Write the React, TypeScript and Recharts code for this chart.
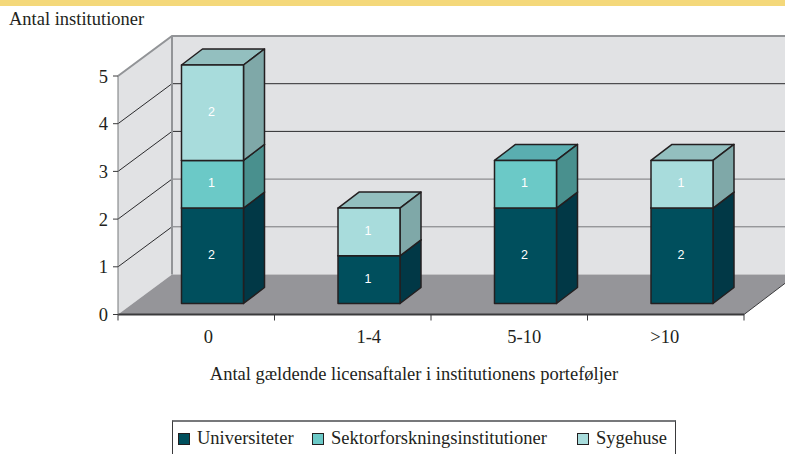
import { Bar, BarChart, LabelList, Legend, ReferenceArea, XAxis, YAxis } from 'recharts';

const CATEGORIES = ['0', '1-4', '5-10', '>10'];
const UNIVERSITETER = [2, 1, 2, 2];
const SEKTOR = [1, 0, 1, 0];
const SYGEHUSE = [2, 1, 0, 1];
const Y_TICKS = [0, 1, 2, 3, 4, 5];
const TICK_SHIFT = [12, 16, 15, -1];

const data = CATEGORIES.map((kategori, i) => ({
  kategori,
  universiteter: UNIVERSITETER[i],
  sektor: SEKTOR[i],
  sygehuse: SYGEHUSE[i],
}));

const SERIF = '"Liberation Serif", "Times New Roman", serif';
const INK = '#231f20';
const TEXT_SIZE = 18.5;
const BAR_DX = 16;
const BAR_DY = -11;
const DEPTH_X = 21;
const DEPTH_Y = -16;
const WALL_X = 54;
const WALL_Y = -40;

const colors = {
  universiteter: { front: '#004f5d', side: '#013846', top: '#013846' },
  sektor: { front: '#6bc9c7', side: '#49908e', top: '#5aaeb0' },
  sygehuse: { front: '#a8dcdc', side: '#7fa8a8', top: '#93bfbf' },
};

const gridStroke = (tick: number) => (tick <= 2 ? '#77787b' : '#2b2b2d');

// walls, floor and the grid that runs along them
function Room({ x, y, width, height }: any) {
  const bottom = y + height;
  const right = x + width;
  const edge = 785;
  const unit = height / 5;
  return (
    <g>
      <polygon
        points={`${x},${y} ${x + WALL_X},${y + WALL_Y} ${x + WALL_X},${bottom + WALL_Y} ${x},${bottom}`}
        fill="#e1e2e4"
      />
      <rect x={x + WALL_X} y={y + WALL_Y} width={edge - x - WALL_X} height={height} fill="#e1e2e4" />
      <polygon
        points={`${x},${bottom} ${x + WALL_X},${bottom + WALL_Y} ${edge},${bottom + WALL_Y} ${edge},${bottom - (edge - right) * 0.76} ${right},${bottom}`}
        fill="#959599"
      />
      <line x1={right} y1={bottom} x2={edge} y2={bottom - (edge - right) * 0.76} stroke="#3a3a3c" strokeWidth={1} />
      {Y_TICKS.filter((t) => t > 0 && t < 5).map((t) => {
        const ty = bottom - t * unit;
        return (
          <g key={t}>
            <line x1={x} y1={ty} x2={x + WALL_X} y2={ty + WALL_Y} stroke="#2b2b2d" strokeWidth={1} />
            <line x1={x + WALL_X} y1={ty + WALL_Y} x2={edge} y2={ty + WALL_Y} stroke={gridStroke(t)} strokeWidth={1} />
          </g>
        );
      })}
      <polyline
        points={`${x},${y} ${x + WALL_X},${y + WALL_Y} ${edge},${y + WALL_Y}`}
        fill="none"
        stroke="#929497"
        strokeWidth={2}
      />
      <line x1={x + WALL_X} y1={y + WALL_Y} x2={x + WALL_X} y2={bottom + WALL_Y} stroke="#929497" strokeWidth={2} />
      {/* the ticks sit between the categories, not under them */}
      {[0, 1, 2, 3, 4].map((i) => (
        <line
          key={i}
          x1={x + (i * width) / 4}
          y1={bottom}
          x2={x + (i * width) / 4}
          y2={bottom + 6}
          stroke="#3a3a3c"
          strokeWidth={1}
        />
      ))}
    </g>
  );
}

function box(key: keyof typeof colors) {
  return ({ x, y, width, height }: any) => {
    if (!height) return <g />;
    const c = colors[key];
    const l = x + BAR_DX;
    const t = y + BAR_DY;
    const r = l + width;
    const b = t + height;
    const common = { stroke: INK, strokeWidth: 1.5, strokeLinejoin: 'round' as const };
    return (
      <g>
        <polygon
          points={`${l},${t} ${l + DEPTH_X},${t + DEPTH_Y} ${r + DEPTH_X},${t + DEPTH_Y} ${r},${t}`}
          fill={c.top}
          {...common}
        />
        <polygon
          points={`${r},${t} ${r + DEPTH_X},${t + DEPTH_Y} ${r + DEPTH_X},${b + DEPTH_Y} ${r},${b}`}
          fill={c.side}
          {...common}
        />
        <rect x={l} y={t} width={width} height={height} fill={c.front} {...common} />
      </g>
    );
  };
}

const BarValue = ({ x, y, width, height, value }: any) =>
  value ? (
    <text
      x={x + BAR_DX + width / 2 - 1}
      y={y + BAR_DY + height / 2 + 3}
      textAnchor="middle"
      fontSize={12.5}
      fontFamily='"Liberation Sans", Arial, sans-serif'
      fill="#ffffff"
    >
      {value}
    </text>
  ) : null;

const XTick = ({ x, y, payload, index }: any) => (
  <text x={x + TICK_SHIFT[index]} y={y + 20} textAnchor="middle" fontSize={TEXT_SIZE} fontFamily={SERIF} fill={INK}>
    {payload.value}
  </text>
);

const legendSwatch = (color: string) => ({
  display: 'inline-block',
  width: 10,
  height: 10,
  background: color,
  border: `1.5px solid ${INK}`,
  marginRight: 7,
});

const LegendBox = ({ payload }: any) => (
  <div
    style={{
      boxSizing: 'border-box',
      width: 504,
      height: 40,
      border: '1px solid #3a3a3c',
      borderTop: '2px solid #77787b',
      background: '#fff',
      position: 'relative',
      fontFamily: SERIF,
      fontSize: TEXT_SIZE,
      color: INK,
    }}
  >
    {(payload ?? []).map((item: any, i: number) => (
      <span
        key={item.value}
        style={{ position: 'absolute', left: [5, 139, 404][i], top: 6, whiteSpace: 'nowrap', display: 'flex', alignItems: 'center' }}
      >
        <span style={legendSwatch(item.color)} />
        {item.value}
      </span>
    ))}
  </div>
);

export default function App() {
  return (
    <div style={{ position: 'absolute', left: 0, top: 0, width: 785, height: 454, overflow: 'hidden', background: '#fff' }}>
      <div style={{ position: 'absolute', left: 9, top: 9, fontFamily: SERIF, fontSize: TEXT_SIZE, color: INK }}>
        Antal institutioner
      </div>
      <BarChart
        width={785}
        height={454}
        data={data}
        margin={{ top: 76, right: 41, bottom: 109.5, left: 68 }}
        barCategoryGap={47.5}
        barGap={0}
        style={{ position: 'absolute', left: 0, top: 0 }}
      >
        <ReferenceArea y1={0} y2={5} shape={<Room />} ifOverflow="visible" stroke="none" fill="none" />
        <XAxis
          dataKey="kategori"
          axisLine={{ stroke: '#3a3a3c', strokeWidth: 2 }}
          tickLine={false}
          tickSize={6}
          tick={<XTick />}
          interval={0}
          height={30}
          label={{
            value: 'Antal gældende licensaftaler i institutionens porteføljer',
            position: 'insideBottom',
            offset: -35,
            fontSize: TEXT_SIZE,
            fontFamily: SERIF,
            fill: INK,
            dx: -17,
          }}
        />
        <YAxis
          domain={[0, 5]}
          ticks={Y_TICKS}
          axisLine={{ stroke: '#77787b' }}
          tickLine={{ stroke: '#3a3a3c' }}
          tickSize={5}
          tickMargin={5}
          tick={{ fontSize: TEXT_SIZE, fontFamily: SERIF, fill: INK }}
          width={50}
        />
        <Legend
          layout="horizontal"
          verticalAlign="middle"
          align="center"
          itemSorter={null}
          content={<LegendBox />}
          wrapperStyle={{ left: 172, top: 420, width: 504 }}
        />
        <Bar dataKey="universiteter" name="Universiteter" stackId="a" fill={colors.universiteter.front} isAnimationActive={false} shape={box('universiteter')}>
          <LabelList dataKey="universiteter" content={<BarValue />} />
        </Bar>
        <Bar dataKey="sektor" name="Sektorforskningsinstitutioner" stackId="a" fill={colors.sektor.front} isAnimationActive={false} shape={box('sektor')}>
          <LabelList dataKey="sektor" content={<BarValue />} />
        </Bar>
        <Bar dataKey="sygehuse" name="Sygehuse" stackId="a" fill={colors.sygehuse.front} isAnimationActive={false} shape={box('sygehuse')}>
          <LabelList dataKey="sygehuse" content={<BarValue />} />
        </Bar>
      </BarChart>
      <div style={{ position: 'absolute', left: 0, top: 0, width: 785, height: 6, background: '#f4d87a' }} />
    </div>
  );
}
